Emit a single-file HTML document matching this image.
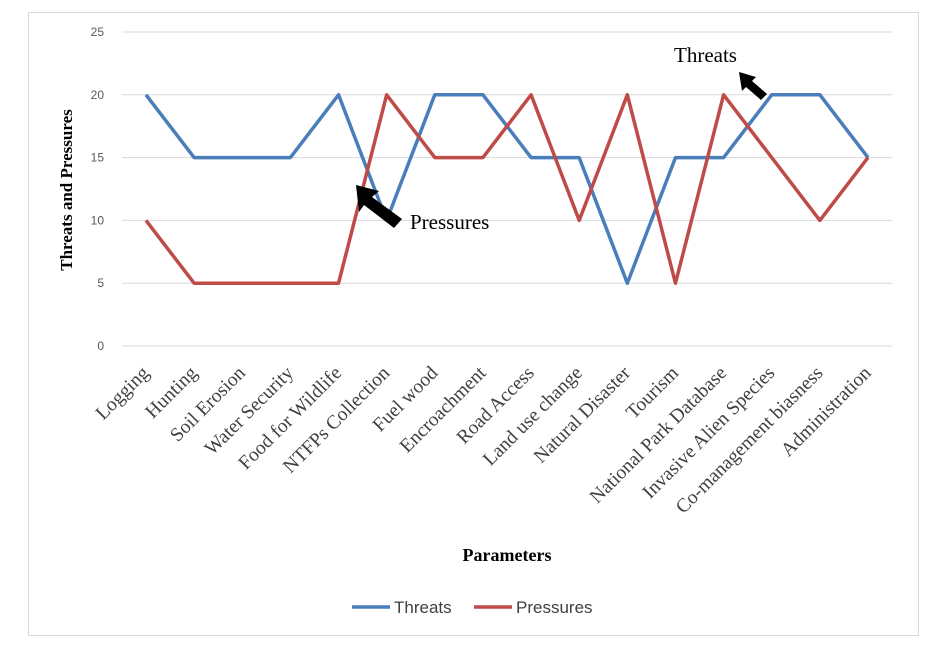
<!DOCTYPE html>
<html><head><meta charset="utf-8"><style>
body{margin:0;background:#fff;}
svg{display:block;font-family:"Liberation Serif",serif;}
</style></head><body>
<svg id="c" width="930" height="646">
<rect x="28.5" y="12.5" width="890" height="623" fill="#fff" stroke="#d9d9d9"/>
<g id="grid"></g><g id="ylab"></g><g id="xlab"></g><g id="series"></g>
<text x="72" y="190" transform="rotate(-90 72 190)" text-anchor="middle" font-weight="bold" font-size="17">Threats and Pressures</text>
<text x="507" y="561" text-anchor="middle" font-weight="bold" font-size="18">Parameters</text>
<g font-family="Liberation Sans, sans-serif" fill="#404040">
<line x1="352" y1="607" x2="390" y2="607" stroke="#4a7ebb" stroke-width="3.5"/>
<text x="394" y="613" font-size="17">Threats</text>
<line x1="474" y1="607" x2="512" y2="607" stroke="#be4b48" stroke-width="3.5"/>
<text x="516" y="613" font-size="17">Pressures</text>
</g>
<g>
<polygon points="356,185 379,191 372,197 402,219 394,228 364,205 359,212" fill="#000"/>
<text x="410" y="229" font-size="21">Pressures</text>
</g>
<g>
<polygon points="739,72 756,77 752,81 767,94 761,100 746,87 742,91" fill="#000"/>
<text x="674" y="62" font-size="21">Threats</text>
</g>
</svg>
<script>
const categories=["Logging","Hunting","Soil Erosion","Water Security","Food for Wildlife","NTFPs Collection","Fuel wood","Encroachment","Road Access","Land use change","Natural Disaster","Tourism","National Park Database","Invasive Alien Species","Co-management biasness","Administration"];
const threats=[20,15,15,15,20,10,20,20,15,15,5,15,15,20,20,15];
const pressures=[10,5,5,5,5,20,15,15,20,10,20,5,20,15,10,15];
const yTicks=[0,5,10,15,20,25];
const NS="http://www.w3.org/2000/svg";
const x0=146,x1=868,yBase=346,yTop=32,yMax=25;
const xs=i=>x0+i*(x1-x0)/(categories.length-1);
const ys=v=>yBase-v*(yBase-yTop)/yMax;
function mk(t,a,p){const e=document.createElementNS(NS,t);for(const k in a)e.setAttribute(k,a[k]);document.getElementById(p).appendChild(e);return e;}
yTicks.forEach(v=>{
 const l=mk('line',{x1:122,x2:892,y1:ys(v),y2:ys(v),stroke:'#d9d9d9'},'grid');
 
 
 const t=mk('text',{x:104,y:ys(v)+4,'text-anchor':'end','font-size':12,fill:'#595959','font-family':'Liberation Sans, sans-serif'},'ylab');
 t.textContent=v;
 
 
});
categories.forEach((c,i)=>{
 const x=xs(i)+4,y=374;
 const t=mk('text',{x:x,y:y,'text-anchor':'end','font-size':19.5,fill:'#404040',transform:`rotate(-45 ${x} ${y})`},'xlab');
 t.textContent=c;
 
 
});
[[threats,'#4a7ebb','threats-line'],[pressures,'#be4b48','pressures-line']].forEach(([d,col,n])=>{
 const p=mk('polyline',{points:d.map((v,i)=>xs(i)+','+ys(v)).join(' '),fill:'none',stroke:col,'stroke-width':3.5,'stroke-linejoin':'round'},'series');
 
 
});
</script>
</body></html>
